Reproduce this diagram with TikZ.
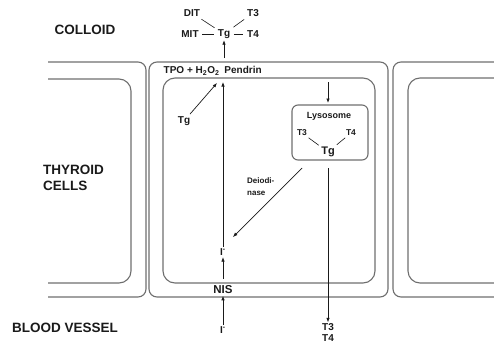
\documentclass[tikz,border=0pt]{standalone}
\usepackage{fontspec}
\setmainfont{Liberation Sans}
\usepackage{xcolor}
\definecolor{cWall}{HTML}{6E6E6E}
\definecolor{cInk}{HTML}{1A1A1A}
\usepackage{tikz}
\usetikzlibrary{positioning,arrows.meta}
\tikzset{
  cell-wall/.style={draw=cWall,line width=1.1pt},
  lbl-big/.style={inner sep=1pt,text=cInk,font=\fontsize{13.5}{15.5}\selectfont\bfseries},
  lbl/.style={inner sep=1.5pt,text=cInk,font=\fontsize{10}{11}\selectfont\bfseries},
  lbl-sm/.style={inner sep=1pt,text=cInk,font=\fontsize{8.5}{12}\selectfont\bfseries},
  arrow/.style={-{Latex[length=4.5pt,width=3.5pt]},line width=0.7pt,draw=cInk},
  link/.style={line width=0.6pt,draw=cInk,shorten <=2pt,shorten >=2pt},
}

\begin{document}
\begin{tikzpicture}[x=1pt,y=-1pt]
  \useasboundingbox (0,0) rectangle (494,345);
  % cells
  \draw[cell-wall,rounded corners=8pt] (48,62) -- (146,62) -- (146,297) -- (48,297);
  \draw[cell-wall,rounded corners=12pt] (48,79) -- (131,79) -- (131,283) -- (48,283);
  \draw[cell-wall,rounded corners=8pt] (149,62) rectangle (388,297);
  \draw[cell-wall,rounded corners=12pt] (163,78) rectangle (375,283);
  \draw[cell-wall,rounded corners=8pt] (494,62) -- (393,62) -- (393,297) -- (494,297);
  \draw[cell-wall,rounded corners=12pt] (494,78) -- (408,78) -- (408,283) -- (494,283);
  \draw[cell-wall,rounded corners=6pt] (292,105) rectangle (368,160);

  % region labels
  \node[lbl-big] (colloid) at (85,30) {COLLOID};
  \node[lbl-big,align=left,anchor=west] (cells) at (42,178) {THYROID\\CELLS};
  \node[lbl-big] (blood) at (65,328) {BLOOD VESSEL};

  % colloid side
  \node[lbl] (tg-top) at (224,34) {Tg};
  \node[lbl] (mit) at (190,34) {MIT};
  \node[lbl] (t4-top) at (253,34) {T4};
  \node[lbl] (dit) at (192,13) {DIT};
  \node[lbl] (t3-top) at (253,13) {T3};
  \draw[link] (mit) -- (tg-top);
  \draw[link] (tg-top) -- (t4-top);
  \draw[link] (dit) -- (tg-top);
  \draw[link] (t3-top) -- (tg-top);
  \coordinate (apex) at (224,58);
  \draw[arrow] (apex) -- (tg-top.south);

  % thyroid cell
  \node[lbl,anchor=west] (tpo) at (162,71) {TPO + H\textsubscript{2}O\textsubscript{2}\enspace Pendrin};
  \coordinate (tpo-in) at (223,82);
  \coordinate (lyso-in) at (328,82);
  \node[lbl] (tg-cell) at (184,121) {Tg};
  \draw[arrow,shorten <=1pt] (tg-cell) -- (217,83);
  \node[lbl-sm,font=\fontsize{9}{10}\selectfont\bfseries] (lyso-lbl) at (329,116) {Lysosome};
  \node[lbl-sm] (t3-lys) at (302,133) {T3};
  \node[lbl-sm] (t4-lys) at (351,133) {T4};
  \node[lbl,font=\fontsize{11}{12}\selectfont\bfseries] (tg-lys) at (328,152) {Tg};
  \draw[link,shorten <=1pt,shorten >=1pt] (t3-lys) -- (tg-lys);
  \draw[link,shorten <=1pt,shorten >=1pt] (t4-lys) -- (tg-lys);
  \draw[arrow] (lyso-in) -- (328,103);

  \node[lbl] (iin) at (223,252) {I\textsuperscript{-}};
  \draw[arrow] (iin) -- (tpo-in);
  \node[lbl-sm,font=\fontsize{8}{12}\selectfont\bfseries,align=left,anchor=north west] (deio-lbl) at (246,176) {Deiodi-\\nase};
  \coordinate (deio-start) at (302,168);
  \draw[arrow] (deio-start) -- (233,237);

  % basal side
  \node[lbl,font=\fontsize{11.5}{12}\selectfont\bfseries] (nis) at (223,290) {NIS};
  \coordinate (nis-top) at (223,279);
  \draw[arrow] (nis-top) -- (iin);
  \node[lbl] (iout) at (223,330) {I\textsuperscript{-}};
  \draw[arrow] (iout) -- (nis);
  \node[lbl,align=center,font=\fontsize{10}{11}\selectfont\bfseries] (t3t4) at (328,333) {T3\\T4};
  \coordinate (lyso-out) at (328,168);
  \draw[arrow] (lyso-out) -- (t3t4);
\end{tikzpicture}
\end{document}
